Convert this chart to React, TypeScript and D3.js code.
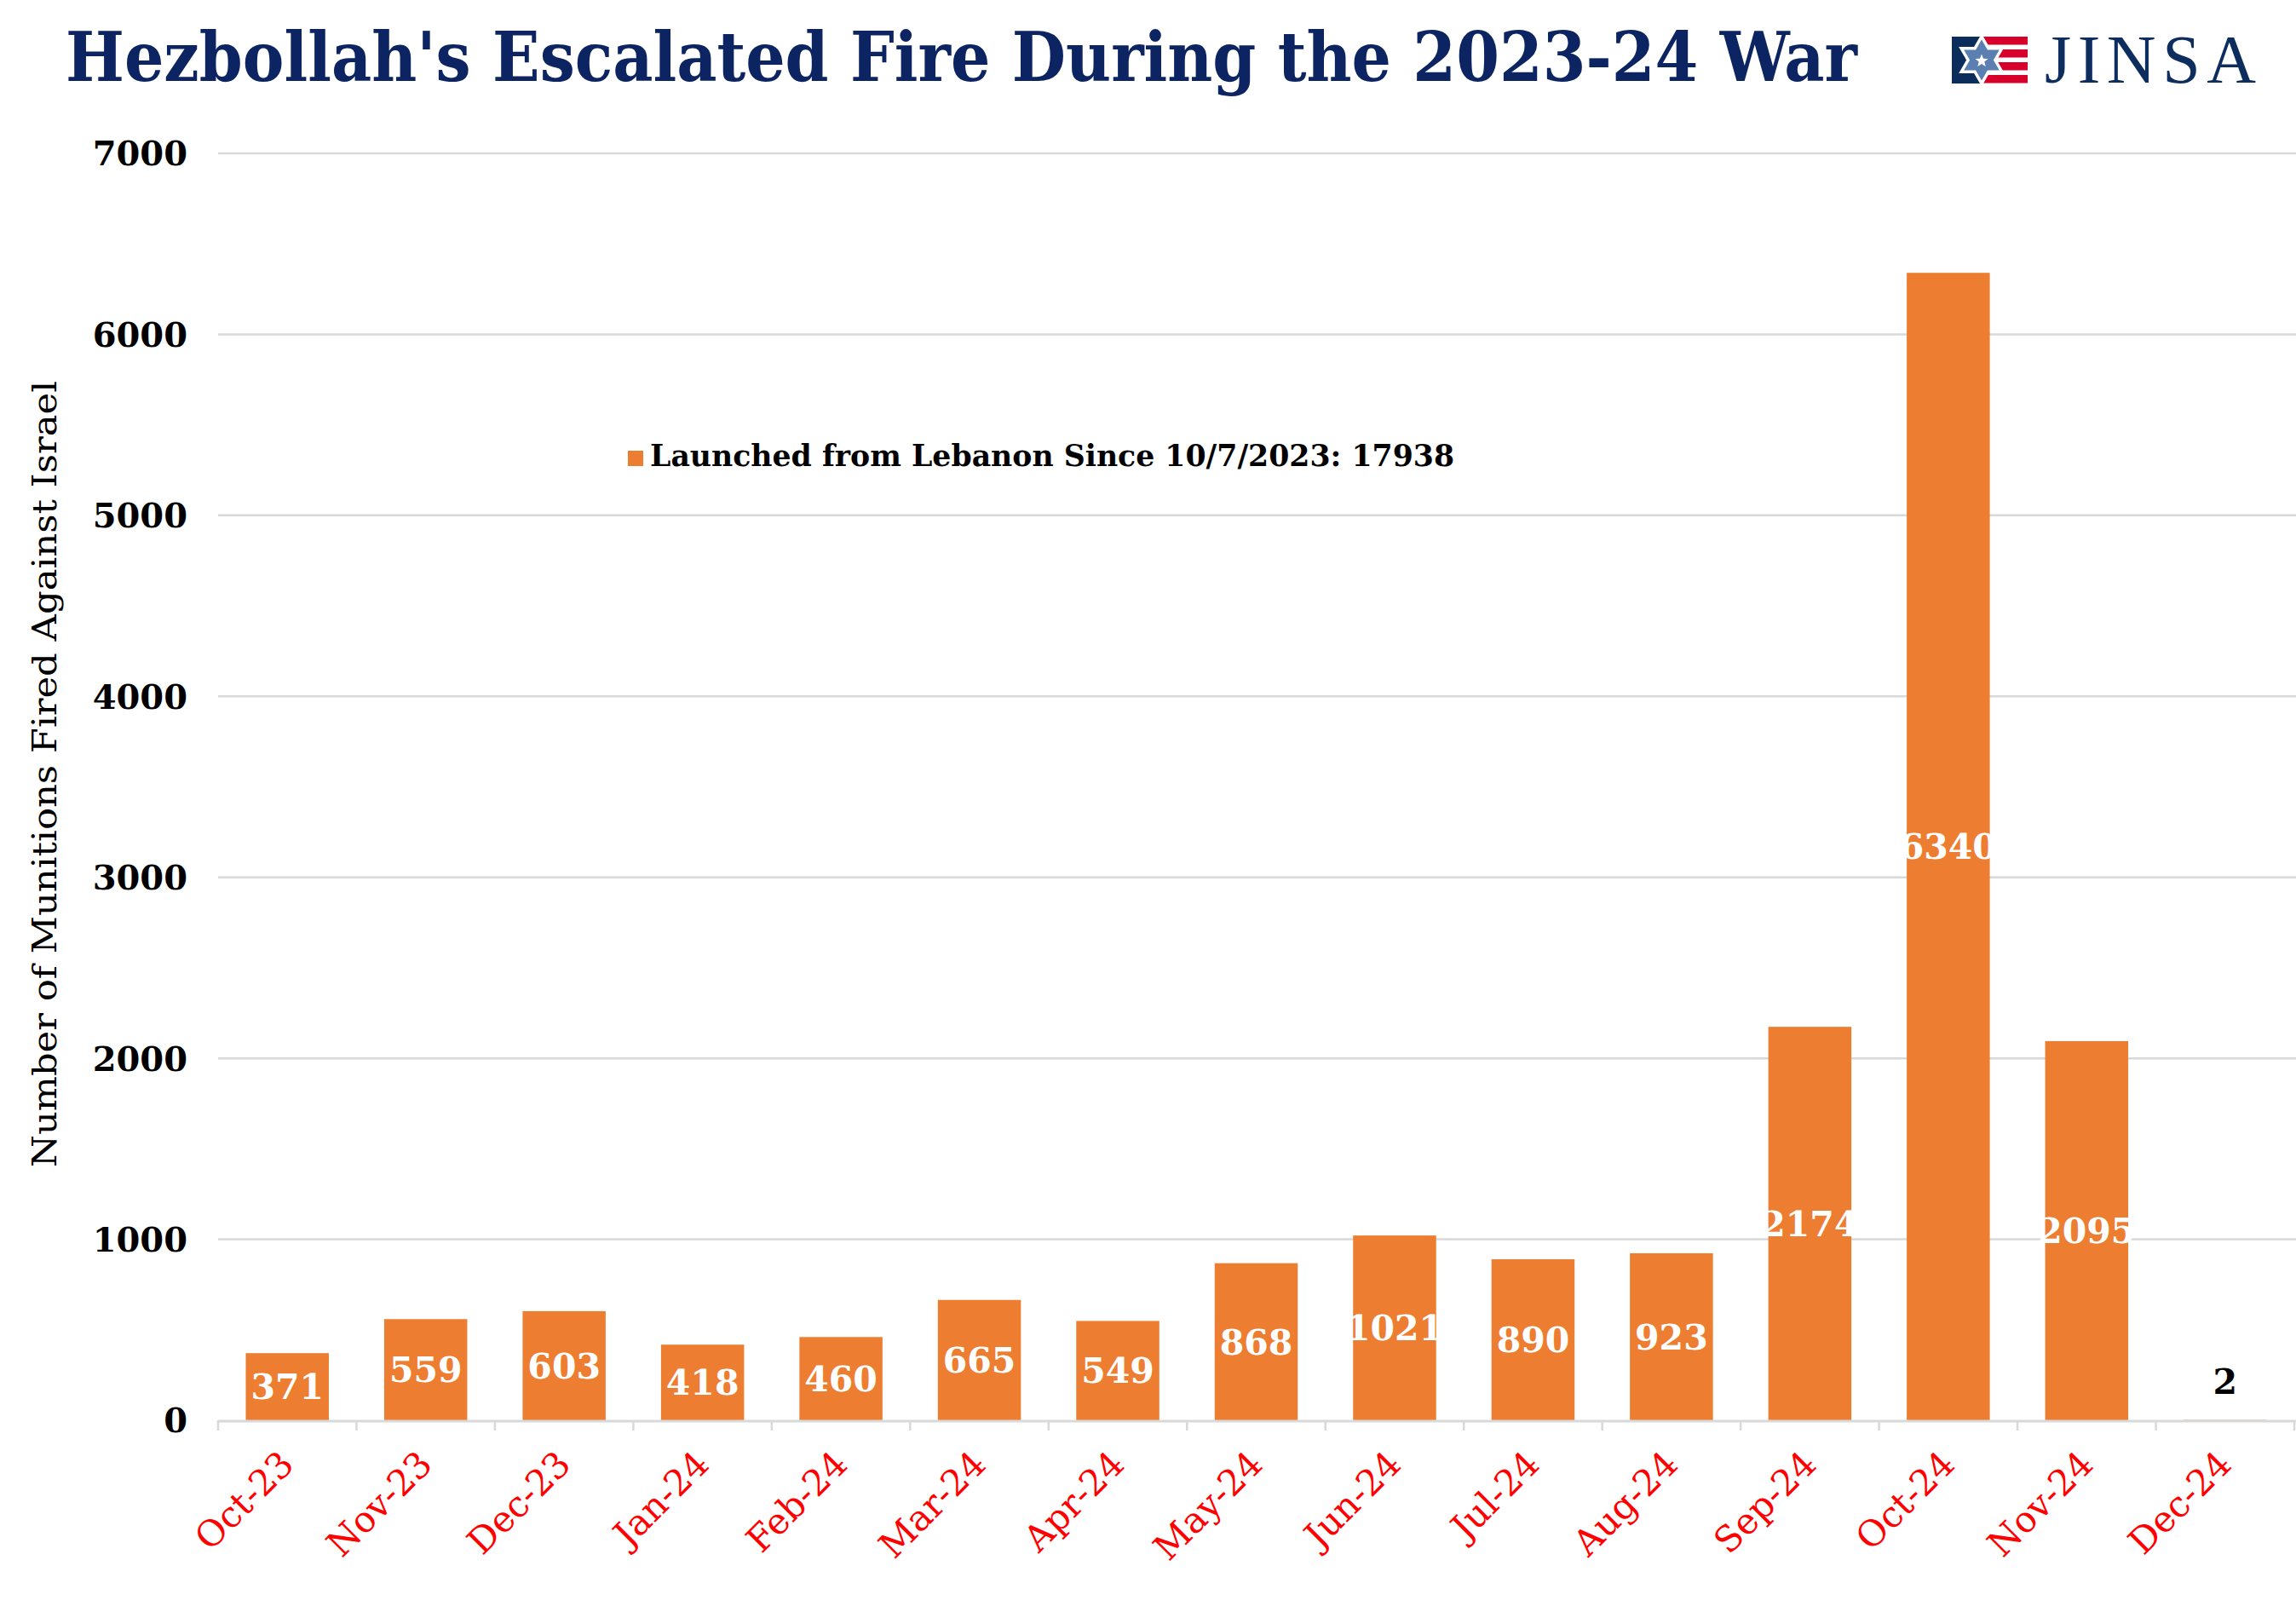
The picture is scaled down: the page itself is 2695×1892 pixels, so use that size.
import React from "react";
import * as d3 from "d3";

const categories = ["Oct-23","Nov-23","Dec-23","Jan-24","Feb-24","Mar-24","Apr-24","May-24","Jun-24","Jul-24","Aug-24","Sep-24","Oct-24","Nov-24","Dec-24"];
const launched = [371,559,603,418,460,665,549,868,1021,890,923,2174,6340,2095,2];
const yTicks = [0,1000,2000,3000,4000,5000,6000,7000];
const titleText = "Hezbollah's Escalated Fire During the 2023-24 War";
const yTitle = "Number of Munitions Fired Against Israel";
const legendText = "Launched from Lebanon Since 10/7/2023: 17938";

const W = 2695, H = 1892;
const plotLeft = 256, plotRight = 2693;
const y0 = 1667, yTop = 180;
const ORANGE = "#ed7d31";
const NAVY = "#0c2461";
const GRID = "#d9d9d9";
const SERIF = "'DejaVu Serif', 'Liberation Serif', serif";

function hexagram(cx: number, cy: number, r: number) {
  const tri = (rot: number) => d3.range(3).map(i => {
    const a = rot + i * 2 * Math.PI / 3;
    return [cx + r * Math.sin(a), cy - r * Math.cos(a)];
  });
  const toPath = (pts: number[][]) => "M" + pts.map(p => p.join(",")).join("L") + "Z";
  return toPath(tri(0)) + toPath(tri(Math.PI));
}
function star5(cx: number, cy: number, ro: number, ri: number) {
  const pts = d3.range(10).map(i => {
    const r = i % 2 === 0 ? ro : ri;
    const a = i * Math.PI / 5;
    return [cx + r * Math.sin(a), cy - r * Math.cos(a)];
  });
  return "M" + pts.map(p => p.join(",")).join("L") + "Z";
}

export default function App() {
  const x = d3.scaleBand<string>().domain(categories).range([plotLeft, plotRight]).paddingInner(0.4).paddingOuter(0.2);
  const y = d3.scaleLinear().domain([0, 7000]).range([y0, yTop]);
  const step = x.step();
  const bw = x.bandwidth();
  const boundaries = d3.range(categories.length + 1).map(i => plotLeft + i * step);

  const lx = 2291, ly = 43;
  return (
    <svg width={W} height={H} style={{ position: "absolute", left: 0, top: 0, background: "#fff" }}>
      <rect x={0} y={0} width={W} height={H} fill="#fff" />
      {/* title */}
      <text x={77} y={95} fontFamily={SERIF} fontWeight="bold" fontSize={80} fill={NAVY}
        textLength={2103} lengthAdjust="spacingAndGlyphs">{titleText}</text>
      {/* logo */}
      <g>
        {[0, 15, 30, 45].map(o => (
          <rect key={o} x={lx + 28} y={ly + o} width={61} height={9.5} fill="#d6002a" />
        ))}
        <rect x={lx} y={ly} width={34} height={55} fill="#0b2d5b" />
        <path d={hexagram(lx + 35, ly + 27.5, 31)} fill="#fff" />
        <path d={hexagram(lx + 35, ly + 27.5, 24)} fill="#5a7fb0" />
        <path d={star5(lx + 35, ly + 28.5, 8, 3.4)} fill="#fff" />
        <text x={2400} y={97} fontFamily="'Liberation Serif', serif" fontSize={80} fill="#0d2d5e"
          textLength={248} lengthAdjust="spacing">JINSA</text>
      </g>
      {/* gridlines */}
      {yTicks.filter(t => t > 0).map(t => (
        <line key={t} x1={plotLeft} x2={W} y1={y(t)} y2={y(t)} stroke={GRID} strokeWidth={2.5} />
      ))}
      {/* y tick labels */}
      {yTicks.map(t => (
        <text key={t} x={220} y={y(t)} dy="0.36em" textAnchor="end" fontFamily={SERIF} fontWeight="bold"
          fontSize={40} fill="#000">{t}</text>
      ))}
      {/* y title */}
      <text transform={`translate(66,${(447 + 1370) / 2}) rotate(-90)`} textAnchor="middle" fontFamily={SERIF}
        fontSize={39} fill="#000" textLength={923} lengthAdjust="spacingAndGlyphs">{yTitle}</text>
      {/* bars */}
      {categories.map((c, i) => (
        <rect key={c} x={x(c)} y={y(launched[i])} width={bw} height={y0 - y(launched[i])} fill={ORANGE} />
      ))}
      {/* axis */}
      <line x1={plotLeft} x2={W} y1={y0 + 1} y2={y0 + 1} stroke={GRID} strokeWidth={3} />
      {boundaries.map((b, i) => (
        <line key={i} x1={b} x2={b} y1={y0} y2={y0 + 12} stroke={GRID} strokeWidth={2.5} />
      ))}
      {/* data labels */}
      {categories.map((c, i) => {
        const v = launched[i];
        const top = y(v);
        const small = y0 - top < 50;
        const cy = small ? y0 - 46 : (top + y0) / 2;
        return (
          <text key={c} x={(x(c) as number) + bw / 2} y={cy} dy="0.36em" textAnchor="middle" fontFamily={SERIF}
            fontWeight="bold" fontSize={41} fill={small ? "#000" : "#fff"}>{v}</text>
        );
      })}
      {/* x labels */}
      {categories.map(c => {
        const cx = (x(c) as number) + bw / 2 + 10;
        return (
          <text key={c} transform={`translate(${cx},${y0 + 54}) rotate(-45)`} textAnchor="end" fontFamily={SERIF}
            fontSize={42} fill="#ff0000">{c}</text>
        );
      })}
      {/* legend */}
      <rect x={737} y={529} width={18} height={18} fill={ORANGE} />
      <text x={763} y={547} fontFamily={SERIF} fontWeight="bold" fontSize={36} fill="#000"
        textLength={944} lengthAdjust="spacingAndGlyphs">{legendText}</text>
    </svg>
  );
}
